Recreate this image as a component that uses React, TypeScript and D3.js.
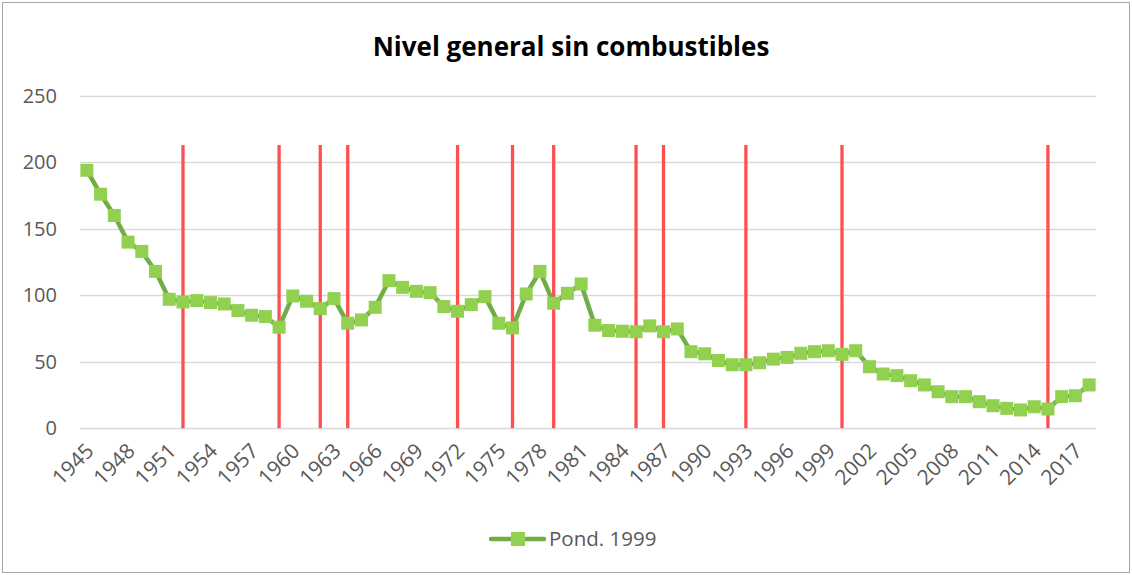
import { useEffect, useRef } from 'react';
import * as d3 from 'd3';

const years: number[] = d3.range(1945, 2019);

const pond1999: number[] = [
  194, 176, 160, 140, 133, 118, 97, 95, 96, 94.5,
  93.5, 88.5, 85, 84, 76, 99.5, 95.5, 90, 97.5, 79,
  81.5, 91, 111, 106, 103, 102, 91.5, 88, 93, 99,
  79, 75.5, 101, 118, 94, 101.5, 108.5, 77.5, 73.5, 73,
  72.6, 77, 72.6, 74.7, 57.6, 56, 51, 47.8, 47.8, 49.3,
  52, 53.3, 56.4, 57.6, 58.3, 55.6, 58.3, 46.3, 40.8, 39.6,
  35.8, 32.6, 27.5, 23.8, 23.8, 20, 17, 15, 13.8, 16.2,
  14.5, 23.8, 24.5, 32.6,
];

// years marked with a red vertical bar, and the bar height on the value axis
const markedYears: number[] = [1952, 1959, 1962, 1964, 1972, 1976, 1979, 1985, 1987, 1993, 2000, 2015];
const markHeight = 213;

const yTicks: number[] = [0, 50, 100, 150, 200, 250];
const xTickYears: number[] = d3.range(1945, 2019, 3);

const seriesName = 'Pond. 1999';
const title = 'Nivel general sin combustibles';

export default function App() {
  const svgRef = useRef<SVGSVGElement>(null);

  useEffect(() => {
    if (!svgRef.current) return;
    const svg = d3.select(svgRef.current);
    svg.selectAll('*').remove();

    const width = 1132;
    const height = 575;
    const font = 'Open Sans, sans-serif';

    const x = d3.scaleBand<number>().domain(years).range([80, 1096]).paddingInner(0).paddingOuter(0);
    const y = d3.scaleLinear().domain([0, 250]).range([428.3, 95.8]);
    const cx = (yr: number) => (x(yr) as number) + x.bandwidth() / 2;

    svg.attr('width', width).attr('height', height);

    svg.append('rect')
      .attr('x', 2.5).attr('y', 2.5)
      .attr('width', width - 5).attr('height', height - 5)
      .attr('fill', '#fff').attr('stroke', '#a6a6a6').attr('stroke-width', 1);

    svg.append('text')
      .attr('x', 571).attr('y', 56)
      .attr('text-anchor', 'middle')
      .attr('font-family', font).attr('font-weight', 700).attr('font-size', 26)
      .attr('fill', '#000')
      .text(title);

    // Grid
    yTicks.forEach((t) => {
      svg.append('line')
        .attr('x1', 80).attr('x2', 1096)
        .attr('y1', Math.round(y(t)) + 0.5).attr('y2', Math.round(y(t)) + 0.5)
        .attr('stroke', '#d9d9d9').attr('stroke-width', 1.3);
      svg.append('text')
        .attr('x', 57).attr('y', y(t))
        .attr('dy', '0.35em')
        .attr('text-anchor', 'end')
        .attr('font-family', font).attr('font-size', 20)
        .attr('fill', '#595959')
        .text(t);
    });

    // X labels
    xTickYears.forEach((yr) => {
      const px = cx(yr);
      svg.append('text')
        .attr('transform', `translate(${px + 3},${447}) rotate(-45)`)
        .attr('text-anchor', 'end')
        .attr('dy', '0.35em')
        .attr('font-family', font).attr('font-size', 21)
        .attr('fill', '#595959')
        .text(yr);
    });

    // Red marks
    markedYears.forEach((yr) => {
      svg.append('line')
        .attr('x1', cx(yr)).attr('x2', cx(yr))
        .attr('y1', y(markHeight)).attr('y2', y(0))
        .attr('stroke', '#ff5050').attr('stroke-width', 3.3);
    });

    // Series line
    const line = d3.line<number>()
      .x((_, i) => cx(years[i]))
      .y((d) => y(d));
    svg.append('path')
      .datum(pond1999)
      .attr('d', line)
      .attr('fill', 'none')
      .attr('stroke', '#70ad47')
      .attr('stroke-width', 4.5)
      .attr('stroke-linejoin', 'round');

    const m = 13;
    svg.append('g').selectAll('rect')
      .data(pond1999)
      .join('rect')
      .attr('x', (_, i) => cx(years[i]) - m / 2)
      .attr('y', (d) => y(d) - m / 2)
      .attr('width', m).attr('height', m)
      .attr('fill', '#92d050');

    // Legend
    svg.append('line')
      .attr('x1', 491).attr('x2', 544)
      .attr('y1', 539).attr('y2', 539)
      .attr('stroke', '#70ad47').attr('stroke-width', 4.5)
      .attr('stroke-linecap', 'round');
    svg.append('rect')
      .attr('x', 511).attr('y', 532)
      .attr('width', 14).attr('height', 14)
      .attr('fill', '#92d050');
    svg.append('text')
      .attr('x', 549).attr('y', 539)
      .attr('dy', '0.35em')
      .attr('font-family', font).attr('font-size', 20.5)
      .attr('fill', '#595959')
      .text(seriesName);
  }, []);

  return <svg ref={svgRef} style={{ position: 'absolute', left: 0, top: 0, display: 'block' }} />;
}
